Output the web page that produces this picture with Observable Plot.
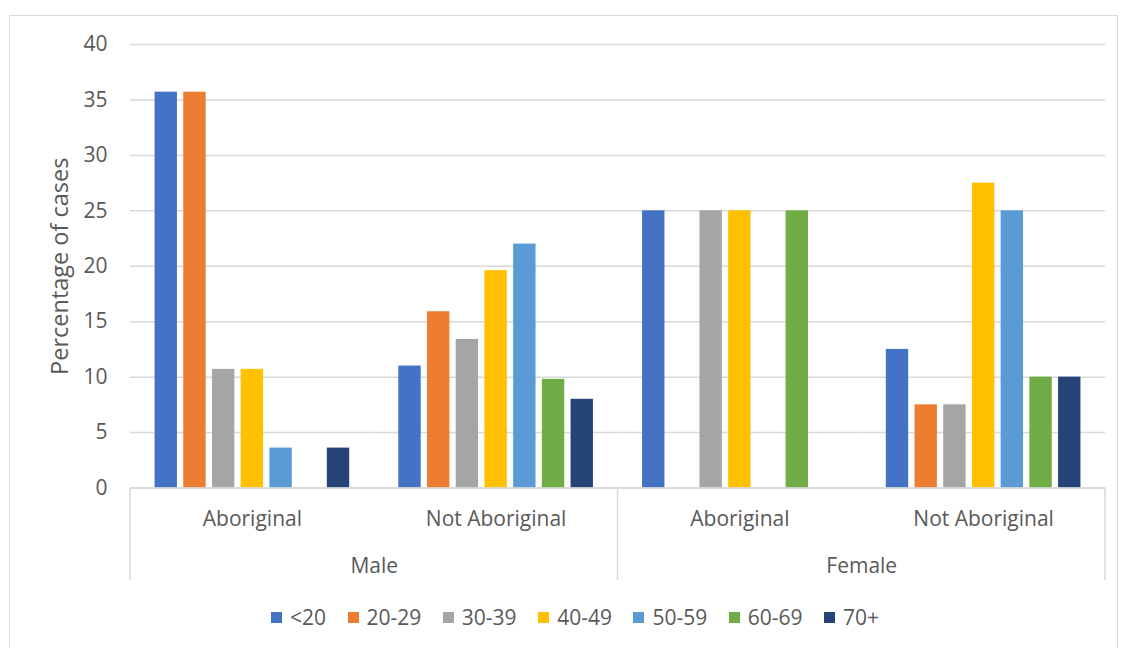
<!DOCTYPE html>
<html>
<head>
<meta charset="utf-8">
<script src="https://cdn.jsdelivr.net/npm/d3@7"></script>
<script src="https://cdn.jsdelivr.net/npm/@observablehq/plot@0.6"></script>
<style>
  html, body { margin: 0; padding: 0; background: #fff; }
  #wrap { position: relative; width: 1122px; height: 648px; overflow: hidden; background: #fff; }
  #border { position: absolute; left: 9px; top: 15px; width: 1109px; height: 700px; border: 1px solid #d9d9d9; box-sizing: border-box; }
  #chart { position: absolute; left: 0; top: 0; }
  #chart svg { display: block; }
  #legend { position: absolute; left: 271px; top: 604px; height: 26px; display: flex; align-items: center;
            font-family: "Open Sans", sans-serif; font-size: 21px; color: #595959; white-space: nowrap; }
  .item { display: flex; align-items: center; margin-right: 21.5px; }
  .swatch { width: 11px; height: 11px; margin-right: 8px; }
</style>
</head>
<body>
<div id="wrap">
  <div id="border"></div>
  <div id="chart"></div>
  <div id="legend"></div>
</div>
<script>
// Age bands and their Office-style colours
const ages = ["<20", "20-29", "30-39", "40-49", "50-59", "60-69", "70+"];
const ageColors = ["#4472C4", "#ED7D31", "#A5A5A5", "#FFC000", "#5B9BD5", "#70AD47", "#264478"];

// Category levels
const sexes = ["Male", "Female"];
const origins = ["Aboriginal", "Not Aboriginal"];

// Percentage of cases by age band, one list per sex/origin group
const maleAboriginal = [35.7, 35.7, 10.7, 10.7, 3.6, 0, 3.6];
const maleNotAboriginal = [11.0, 15.9, 13.4, 19.6, 22.0, 9.8, 8.0];
const femaleAboriginal = [25, 0, 25, 25, 0, 25, 0];
const femaleNotAboriginal = [12.5, 7.5, 7.5, 27.5, 25, 10, 10];

const yTicks = [0, 5, 10, 15, 20, 25, 30, 35, 40];

// Build a tidy table for Plot
const seriesBySex = {
  Male: [maleAboriginal, maleNotAboriginal],
  Female: [femaleAboriginal, femaleNotAboriginal]
};
const groupKeys = [];
const rows = [];
for (const sex of sexes) {
  origins.forEach((origin, oi) => {
    const key = `${sex}|${origin}`;
    groupKeys.push(key);
    seriesBySex[sex][oi].forEach((v, ai) => rows.push({key, sex, origin, age: ages[ai], value: v}));
  });
}

const font = "'Open Sans', sans-serif";
const textColor = "#595959";
const gridColor = "#d9d9d9";

const chart = Plot.plot({
  width: 1122,
  height: 604,
  marginLeft: 130,
  marginRight: 17,
  marginTop: 44,
  marginBottom: 116.5,
  style: {fontFamily: font, fontSize: "21px", color: textColor, background: "transparent", overflow: "visible"},
  fx: {domain: groupKeys, padding: 0, round: false},
  x: {domain: ages, paddingInner: 0.22, paddingOuter: 0.855, round: false, axis: null},
  y: {domain: [0, 40]},
  color: {domain: ages, range: ageColors},
  marks: [
    Plot.gridY(yTicks, {stroke: gridColor, strokeOpacity: 1, strokeWidth: 1.5}),
    Plot.axisY(yTicks, {tickSize: 0, tickPadding: 23, fontSize: 21, label: null, fill: textColor}),
    Plot.axisY([], {tickSize: 0, fontSize: 23.5, fill: textColor, label: "Percentage of cases",
                    labelAnchor: "center", labelOffset: 79, labelArrow: "none"}),
    Plot.barY(rows, {fx: "key", x: "age", y: "value", fill: "age"}),
    Plot.ruleY([0], {stroke: gridColor, strokeWidth: 1.5}),
    Plot.axisFx({anchor: "bottom", tickSize: 0, tickPadding: 23.5, fontSize: 21, fill: textColor,
                 label: null, tickFormat: k => k.split("|")[1]}),
    // Outer category (sex) labels, centred on the boundary between each sex's two groups
    Plot.text(sexes, {fx: s => `${s}|Aboriginal`, frameAnchor: "bottom-right", text: d => d,
                      textAnchor: "middle", dy: 84.5, fontSize: 21, fill: textColor})
  ]
});

// Category separators of the two-level axis, placed from the fx and y scales
const fx = chart.scale("fx");
const y = chart.scale("y");
const y0 = y.apply(0);
const edges = [
  fx.apply(groupKeys[0]),
  fx.apply("Female|Aboriginal"),
  fx.apply(groupKeys[groupKeys.length - 1]) + fx.bandwidth
];
d3.select(chart).append("g")
  .attr("stroke", gridColor)
  .attr("stroke-width", 1.5)
  .selectAll("line")
  .data(edges)
  .join("line")
  .attr("x1", d => d).attr("x2", d => d)
  .attr("y1", y0).attr("y2", y0 + 92.5);

document.getElementById("chart").append(chart);

// Legend below the chart
const legend = d3.select("#legend");
const items = legend.selectAll(".item").data(ages).join("div").attr("class", "item");
items.append("div").attr("class", "swatch").style("background", (d, i) => ageColors[i]);
items.append("span").text(d => d);
</script>
</body>
</html>
